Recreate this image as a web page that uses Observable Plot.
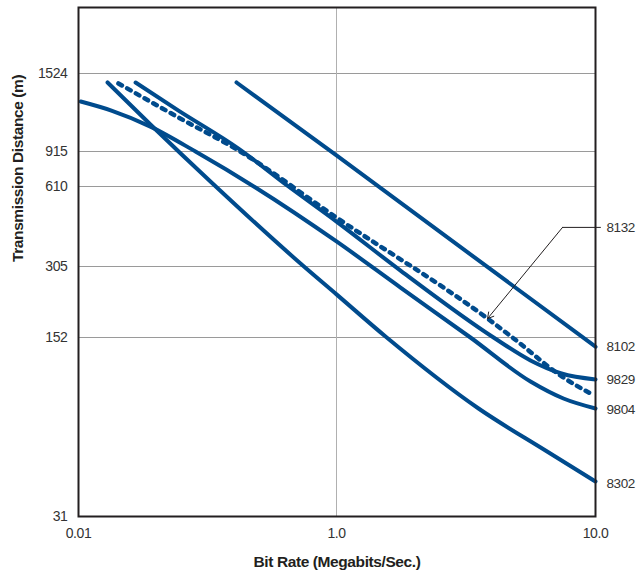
<!DOCTYPE html>
<html><head><meta charset="utf-8">
<script src="https://cdn.jsdelivr.net/npm/d3@7"></script>
<script src="https://cdn.jsdelivr.net/npm/@observablehq/plot@0.6"></script>
<style>body{margin:0;background:#fff}</style>
</head><body><div id="chart"></div>
<script>
// Axis ticks
const xTicks = [0.01, 1, 10];
const xTickLabels = ["0.01", "1.0", "10.0"];
const yTicks = [31, 152, 305, 610, 915, 1524];
const yTop = 2400;

// Series (bit rate in Mb/s, distance in m)
const s8102_x = [0.1678, 1.0, 10];
const s8102_y = [1437, 874, 140];

const s9829_x = [0.0277, 0.0596, 0.1739, 0.4245, 1.0, 1.767, 4.04, 5.61, 7.39, 10];
const s9829_y = [1437, 1196, 933, 610, 450, 293, 152, 124, 110.4, 104.7];

const s8132_x = [0.0204, 0.0596, 0.1739, 1.0, 3.83, 4.78, 7.52, 9.57];
const s8132_y = [1428, 1143, 921, 466, 183, 152, 106.5, 92.4];

const s9804_x = [0.0104, 0.018, 0.0361, 0.0807, 0.2355, 1.0, 1.767, 3.29, 5.61, 7.52, 10];
const s9804_y = [1269, 1196, 1077, 915, 605, 379, 248, 152, 102.8, 88.4, 80.9];

const s8302_x = [0.0168, 0.0361, 0.1074, 0.526, 1.0, 1.546, 3.535, 6.41, 10];
const s8302_y = [1437, 1092, 639, 313, 232, 153.5, 80.9, 55.7, 42.3];

const labelNames = ["8132", "8102", "9829", "9804", "8302"];
const labelY = [428, 140, 104.7, 80.2, 41.6];

// Annotation for 8132
const leaderX = [7.46, 10.45];
const leaderY = [428, 428];
const arrowTip = {x: 3.83, y: 183};

const rows = (xs, ys) => xs.map((x, i) => ({x, y: ys[i]}));
const solids = [rows(s8102_x, s8102_y), rows(s9829_x, s9829_y), rows(s9804_x, s9804_y), rows(s8302_x, s8302_y)];
const dotted = rows(s8132_x, s8132_y);
const blue = "#004b8d";
const font = "'Liberation Sans', Arial, sans-serif";

const chart = Plot.plot({
  width: 638, height: 581,
  marginLeft: 78, marginRight: 43, marginTop: 7, marginBottom: 65,
  style: {fontFamily: font, fontSize: "14px", color: "#333", background: "#fff", letterSpacing: "-0.4px"},
  x: {type: "log", domain: [0.01, 1, 10], range: [78, 336, 595], ticks: xTicks,
      tickFormat: d => xTickLabels[xTicks.indexOf(d)], tickSize: 0, tickPadding: 12, label: null},
  y: {type: "log", domain: [31, 152, 305, 610, 915, 1524, yTop], range: [516, 337, 266, 186, 151, 73, 7],
      axis: null},
  marks: [
    Plot.ruleY(yTicks.slice(1), {stroke: "#9a9a9a", strokeWidth: 1}),
    Plot.ruleX([1], {stroke: "#b0b0b0", strokeWidth: 1}),
    Plot.text(yTicks, {y: d => d, text: d => String(d), frameAnchor: "left", dx: -11, textAnchor: "end", fill: "#333"}),
    ...solids.map(d => Plot.line(d, {x: "x", y: "y", stroke: blue, strokeWidth: 4, curve: "monotone-x"})),
    Plot.line(dotted, {x: "x", y: "y", stroke: blue, strokeWidth: 4.5, strokeDasharray: "4,6", curve: "monotone-x"}),
    Plot.line(rows(leaderX, leaderY), {x: "x", y: "y", stroke: "#231f20", strokeWidth: 1}),
    Plot.arrow([arrowTip], {x1: () => leaderX[0], y1: () => leaderY[0], x2: "x", y2: "y", stroke: "#231f20", strokeWidth: 1, headLength: 10}),
    Plot.text(labelNames, {x: () => 10, y: (d, i) => labelY[i], text: d => d, dx: 11, textAnchor: "start", fill: "#333", fontSize: 13.5}),
    Plot.text(["Transmission Distance (m)"], {frameAnchor: "left", dx: -60, rotate: -90, fontWeight: "bold", fontSize: 15.5, fill: "#231f20"}),
    Plot.text(["Bit Rate (Megabits/Sec.)"], {frameAnchor: "bottom", dy: 50, fontWeight: "bold", fontSize: 15.5, fill: "#231f20"}),
    Plot.frame({stroke: "#231f20", strokeWidth: 2})
  ]
});
document.getElementById("chart").appendChild(chart);
</script>
</body></html>
